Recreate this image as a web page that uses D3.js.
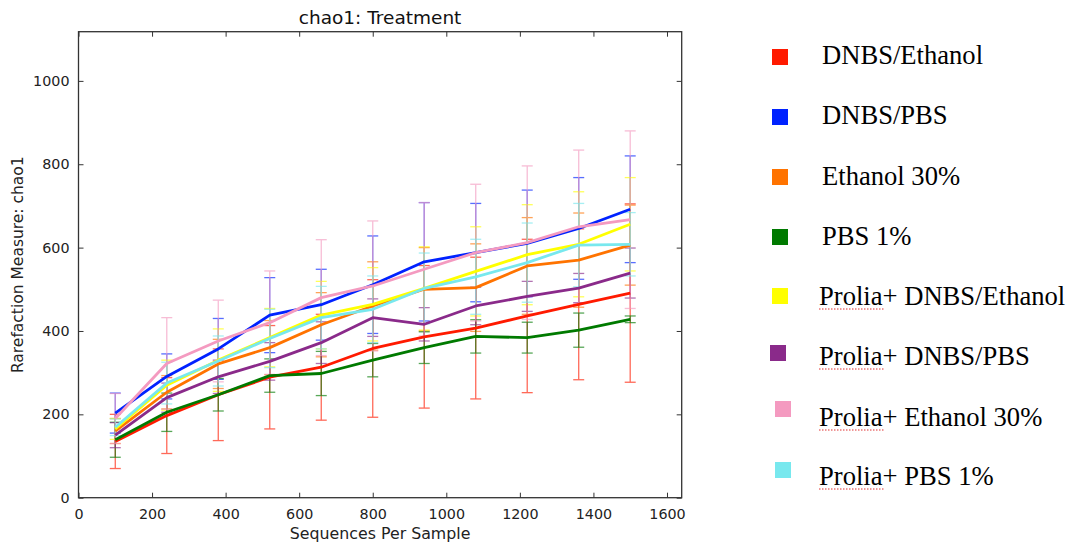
<!DOCTYPE html>
<html>
<head>
<meta charset="utf-8">
<script src="https://cdn.jsdelivr.net/npm/d3@7"></script>
<style>
  html, body { margin: 0; padding: 0; background: #fff; }
  svg { display: block; }
</style>
</head>
<body>
<svg id="chart" width="1071" height="546"></svg>
<script>
// Rarefaction depths (sequences per sample)
const depths = [100, 240, 380, 520, 660, 800, 940, 1080, 1220, 1360, 1500];

// Mean chao1 per treatment group
const dnbsEthanol     = [135, 197, 247, 289, 313, 358, 386, 407, 436, 464, 491];
const dnbsPbs         = [203, 291, 357, 438, 463, 511, 566, 588, 610, 646, 692];
const ethanol30       = [160, 253, 321, 360, 415, 460, 500, 504, 556, 570, 606];
const pbs1            = [139, 205, 247, 293, 298, 330, 360, 387, 384, 402, 428];
const proliaDnbsEth   = [165, 270, 330, 384, 438, 464, 502, 543, 583, 608, 656];
const proliaDnbsPbs   = [150, 240, 290, 327, 372, 432, 416, 460, 483, 503, 539];
const proliaEthanol30 = [190, 322, 376, 420, 480, 508, 548, 588, 612, 650, 667];
const proliaPbs1      = [169, 275, 328, 382, 432, 452, 502, 530, 564, 606, 608];

// Standard deviations
const dnbsEthanolErr     = [65, 91, 110, 124, 127, 165, 171, 170, 184, 181, 214];
const dnbsPbsErr         = [48, 54, 73, 90, 85, 117, 142, 118, 128, 122, 128];
const ethanol30Err       = [30, 40, 59, 65, 77, 106, 100, 105, 116, 113, 96];
const pbs1Err            = [42, 46, 39, 40, 53, 40, 38, 40, 37, 41, 8];
const proliaDnbsEthErr   = [25, 60, 75, 70, 81, 88, 100, 107, 120, 126, 112];
const proliaDnbsPbsErr   = [30, 35, 40, 45, 50, 45, 40, 45, 36, 35, 60];
const proliaEthanol30Err = [60, 110, 98, 124, 139, 156, 160, 164, 184, 184, 213];
const proliaPbs1Err      = [20, 50, 60, 70, 75, 80, 85, 90, 95, 100, 76];

const groupNames = ["DNBS/Ethanol", "DNBS/PBS", "Ethanol 30%", "PBS 1%",
  "Prolia+ DNBS/Ethanol", "Prolia+ DNBS/PBS", "Prolia+ Ethanol 30%", "Prolia+ PBS 1%"];
const groupColors = ["#ff1a00", "#0022ff", "#ff7300", "#007a00",
  "#ffff00", "#8a2a8a", "#f49ac0", "#78e8ee"];
const groupMeans = [dnbsEthanol, dnbsPbs, ethanol30, pbs1,
  proliaDnbsEth, proliaDnbsPbs, proliaEthanol30, proliaPbs1];
const groupErrs = [dnbsEthanolErr, dnbsPbsErr, ethanol30Err, pbs1Err,
  proliaDnbsEthErr, proliaDnbsPbsErr, proliaEthanol30Err, proliaPbs1Err];

const xTicks = [0, 200, 400, 600, 800, 1000, 1200, 1400, 1600];
const yTicks = [0, 200, 400, 600, 800, 1000];

const svg = d3.select("#chart");
const plot = { left: 78.5, top: 31.7, right: 681.7, bottom: 497.7 };

const x = d3.scaleLinear().domain([0, 1640]).range([plot.left, plot.right]);
const y = d3.scaleLinear().domain([0, 1118]).range([plot.bottom, plot.top]);

const series = groupNames.map((name, i) => ({
  name, color: groupColors[i],
  points: depths.map((d, j) => ({ depth: d, mean: groupMeans[i][j], err: groupErrs[i][j] }))
}));

// Error bars
const capHalf = 5.5;
const errG = svg.append("g").attr("class", "errorbars");
series.forEach(s => {
  const g = errG.append("g").attr("stroke", s.color).attr("stroke-width", 1.3)
    .attr("opacity", 0.65);
  s.points.forEach(p => {
    const cx = x(p.depth), y0 = y(p.mean - p.err), y1 = y(p.mean + p.err);
    g.append("line").attr("x1", cx).attr("x2", cx).attr("y1", y0).attr("y2", y1);
    g.append("line").attr("x1", cx - capHalf).attr("x2", cx + capHalf).attr("y1", y0).attr("y2", y0);
    g.append("line").attr("x1", cx - capHalf).attr("x2", cx + capHalf).attr("y1", y1).attr("y2", y1);
  });
});

// Mean curves
const line = d3.line().x(p => x(p.depth)).y(p => y(p.mean));
svg.append("g").attr("class", "curves").selectAll("path")
  .data(series).join("path")
  .attr("d", s => line(s.points))
  .attr("fill", "none")
  .attr("stroke", s => s.color)
  .attr("stroke-width", 2.8)
  .attr("stroke-linejoin", "round");

// Axes with inward ticks on all four sides
const axisColor = "#333";
const tickFont = "DejaVu Sans, sans-serif";
function styleAxis(g, showLabels) {
  g.select(".domain").remove();
  g.selectAll(".tick line").attr("stroke", axisColor).attr("stroke-width", 1);
  g.selectAll(".tick text").attr("fill", "#222").style("font-family", tickFont)
    .style("font-size", "14.3px");
  if (!showLabels) g.selectAll(".tick text").remove();
}
svg.append("g").attr("transform", `translate(0,${plot.bottom})`)
  .call(d3.axisBottom(x).tickValues(xTicks).tickFormat(d3.format("d")).tickSizeInner(-5).tickPadding(11))
  .call(g => styleAxis(g, true));
svg.append("g").attr("transform", `translate(0,${plot.top})`)
  .call(d3.axisTop(x).tickValues(xTicks).tickSizeInner(-5))
  .call(g => styleAxis(g, false));
svg.append("g").attr("transform", `translate(${plot.left},0)`)
  .call(d3.axisLeft(y).tickValues(yTicks).tickFormat(d3.format("d")).tickSizeInner(-5).tickPadding(9))
  .call(g => styleAxis(g, true));
svg.append("g").attr("transform", `translate(${plot.right},0)`)
  .call(d3.axisRight(y).tickValues(yTicks).tickSizeInner(-5))
  .call(g => styleAxis(g, false));

// Frame
svg.append("rect")
  .attr("x", plot.left).attr("y", plot.top)
  .attr("width", plot.right - plot.left).attr("height", plot.bottom - plot.top)
  .attr("fill", "none").attr("stroke", axisColor).attr("stroke-width", 1.3);

// Titles
svg.append("text").attr("x", (plot.left + plot.right) / 2).attr("y", 24)
  .attr("text-anchor", "middle").attr("fill", "#111")
  .style("font-family", tickFont).style("font-size", "18.5px")
  .text("chao1: Treatment");
svg.append("text").attr("x", (plot.left + plot.right) / 2).attr("y", 539)
  .attr("text-anchor", "middle").attr("fill", "#222")
  .style("font-family", tickFont).style("font-size", "15.8px")
  .text("Sequences Per Sample");
svg.append("text")
  .attr("transform", `translate(23,${(plot.top + plot.bottom) / 2}) rotate(-90)`)
  .attr("text-anchor", "middle").attr("fill", "#222")
  .style("font-family", tickFont).style("font-size", "15.5px")
  .text("Rarefaction Measure: chao1");

// Legend
const legendRows = [
  { sq: [772, 49], base: 64 },
  { sq: [772, 109], base: 124 },
  { sq: [772, 169], base: 185 },
  { sq: [772, 229], base: 245 },
  { sq: [772, 288], base: 305 },
  { sq: [770, 345], base: 365 },
  { sq: [775, 401], base: 426 },
  { sq: [775, 462], base: 485 }
];
const legend = svg.append("g").attr("class", "legend");
groupNames.forEach((name, i) => {
  const r = legendRows[i];
  legend.append("rect").attr("x", r.sq[0]).attr("y", r.sq[1])
    .attr("width", 16).attr("height", 16).attr("fill", groupColors[i]);
  const tx = i < 4 ? 822 : 819;
  legend.append("text").attr("x", tx).attr("y", r.base)
    .attr("fill", "#000")
    .style("font-family", "Liberation Serif, Times New Roman, serif")
    .style("font-size", "26.6px")
    .text(name);
  if (name.startsWith("Prolia")) {
    // dotted underline beneath the brand name
    legend.append("line").attr("x1", tx).attr("x2", tx + 66)
      .attr("y1", r.base + 4).attr("y2", r.base + 4)
      .attr("stroke", "#e03030").attr("stroke-width", 1)
      .attr("stroke-dasharray", "1.5,1.5");
  }
});
</script>
</body>
</html>
